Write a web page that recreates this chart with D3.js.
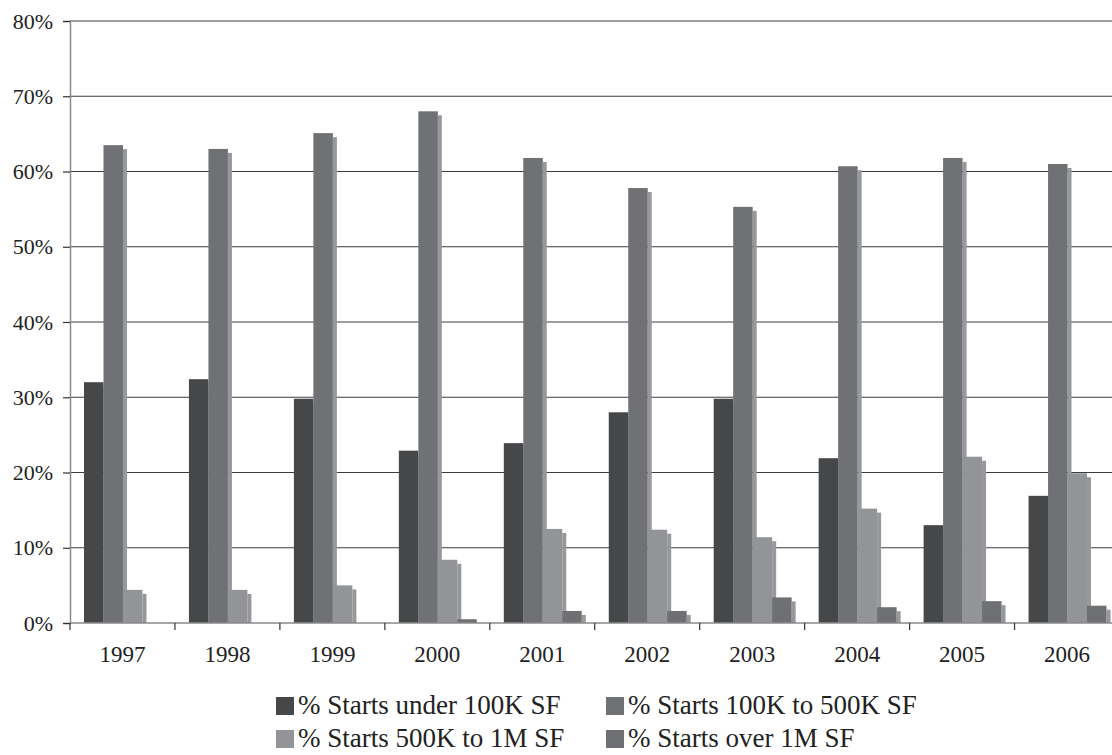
<!DOCTYPE html>
<html>
<head>
<meta charset="utf-8">
<script src="https://cdn.jsdelivr.net/npm/d3@7"></script>
<style>
  html, body { margin: 0; padding: 0; background: #fff; }
  svg { display: block; font-family: "Liberation Serif", "Times New Roman", serif; }
</style>
</head>
<body>
<svg id="chart" width="1112" height="755"></svg>
<script>
// Share of construction starts by building size, 1997-2006
const years = ["1997", "1998", "1999", "2000", "2001", "2002", "2003", "2004", "2005", "2006"];
const seriesNames = [
  "% Starts under 100K SF",
  "% Starts 100K to 500K SF",
  "% Starts 500K to 1M SF",
  "% Starts over 1M SF"
];
const under100K   = [32.0, 32.4, 29.8, 22.9, 23.9, 28.0, 29.8, 21.9, 13.0, 16.9];
const k100to500   = [63.5, 63.0, 65.1, 68.0, 61.8, 57.8, 55.3, 60.7, 61.8, 61.0];
const k500to1M    = [4.4, 4.4, 5.0, 8.4, 12.5, 12.4, 11.4, 15.2, 22.1, 19.9];
const over1M      = [0, 0, 0, 0.5, 1.6, 1.6, 3.4, 2.1, 2.9, 2.3];
const yTicks = [0, 10, 20, 30, 40, 50, 60, 70, 80];

const seriesValues = [under100K, k100to500, k500to1M, over1M];
const colors = ["#464749", "#707175", "#939497", "#6f7073"];
const sideColor = "#97989b";

const svg = d3.select("#chart");
const plotLeft = 70, plotTop = 21, plotBottom = 623;
const bandW = 104.95;
const plotRight = plotLeft + bandW * years.length;

const x = d3.scaleBand().domain(years).range([plotLeft, plotRight]).padding(0);
const x1 = d3.scaleBand().domain(d3.range(4)).range([14, bandW - 13]).padding(0);
const y = d3.scaleLinear().domain([0, 80]).range([plotBottom, plotTop]);

// horizontal gridlines
svg.append("g")
  .selectAll("line")
  .data(yTicks.filter(d => d > 0))
  .join("line")
  .attr("x1", plotLeft).attr("x2", 1112)
  .attr("y1", d => y(d)).attr("y2", d => y(d))
  .attr("stroke", "#3c3c3c").attr("stroke-width", 1.2);

// y axis
const yAxis = svg.append("g").attr("transform", `translate(${plotLeft},0)`)
  .call(d3.axisLeft(y).tickValues(yTicks).tickFormat(d => d + "%").tickSize(7).tickPadding(10));
yAxis.select(".domain").attr("stroke", "#8a8a8a").attr("stroke-width", 1.5);
yAxis.selectAll(".tick line").attr("stroke", "#333").attr("stroke-width", 1.2);
yAxis.selectAll("text").attr("font-size", 22).attr("fill", "#222")
  .attr("font-family", "Liberation Serif, serif");

// bars, each with a lighter side face
const groups = svg.append("g").selectAll("g")
  .data(years)
  .join("g")
  .attr("transform", d => `translate(${x(d)},0)`);

groups.each(function(year, i) {
  const g = d3.select(this);
  seriesValues.forEach((vals, s) => {
    const v = vals[i];
    if (v <= 0) return;
    const bx = x1(s), bw = x1.bandwidth();
    const sideTop = y(v) + 4;
    if (sideTop < plotBottom) {
      g.append("rect")
        .attr("x", bx + bw).attr("y", sideTop)
        .attr("width", 4).attr("height", plotBottom - sideTop)
        .attr("fill", sideColor);
    }
    g.append("rect")
      .attr("x", bx).attr("y", y(v))
      .attr("width", bw).attr("height", plotBottom - y(v))
      .attr("fill", colors[s]);
  });
});

// x axis baseline and category ticks
svg.append("line")
  .attr("x1", plotLeft).attr("x2", 1112).attr("y1", plotBottom).attr("y2", plotBottom)
  .attr("stroke", "#8a8a8a").attr("stroke-width", 1.5);
svg.append("g").selectAll("line")
  .data(d3.range(years.length + 1))
  .join("line")
  .attr("x1", d => plotLeft + d * bandW).attr("x2", d => plotLeft + d * bandW)
  .attr("y1", plotBottom).attr("y2", plotBottom + 7)
  .attr("stroke", "#333").attr("stroke-width", 1.2);
svg.append("g").selectAll("text")
  .data(years)
  .join("text")
  .attr("x", d => x(d) + x.bandwidth() / 2)
  .attr("y", 662)
  .attr("text-anchor", "middle")
  .attr("font-size", 23).attr("fill", "#222")
  .text(d => d);

// legend
const legendPos = [[276, 697], [606, 697], [276, 730], [606, 730]];
const legend = svg.append("g").selectAll("g")
  .data(seriesNames)
  .join("g")
  .attr("transform", (d, i) => `translate(${legendPos[i][0]},${legendPos[i][1]})`);
legend.append("rect")
  .attr("width", 18).attr("height", 18)
  .attr("fill", (d, i) => colors[i]);
legend.append("text")
  .attr("x", 22).attr("y", 17)
  .attr("font-size", 27).attr("fill", "#222")
  .text(d => d);
</script>
</body>
</html>
